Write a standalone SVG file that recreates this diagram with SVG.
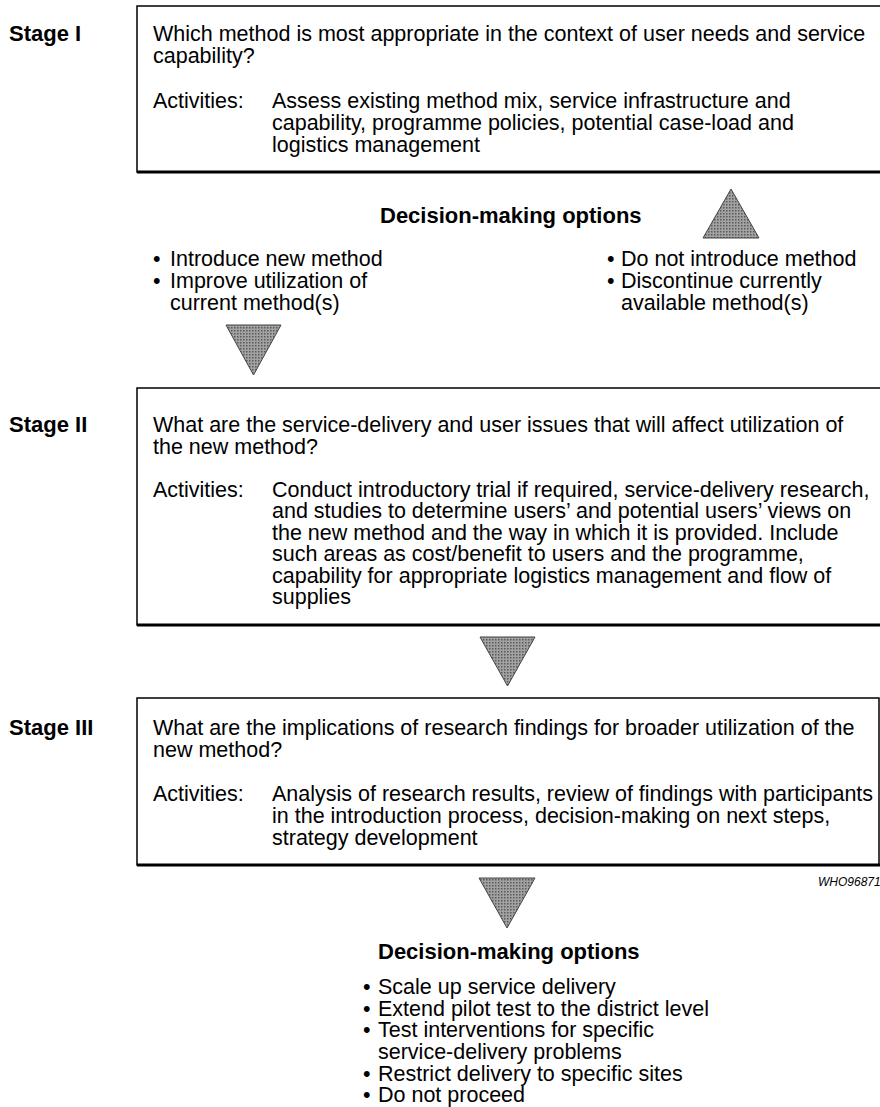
<svg xmlns="http://www.w3.org/2000/svg" width="880" height="1107" viewBox="0 0 880 1107">
<defs>
<pattern id="dots" width="3" height="3" patternUnits="userSpaceOnUse">
  <rect width="3" height="3" fill="#a2a2a2"/>
  <rect width="1.5" height="1.5" fill="#5a5a5a"/>
</pattern>
</defs>
<style>
text { font-family: "Liberation Sans", Arial, Helvetica, sans-serif; fill: #000; }
.t { font-size: 21.5px; }
.b { font-size: 22px; font-weight: bold; }
.w { font-size: 12px; font-style: italic; }
.box { fill: #fff; stroke: #000; stroke-width: 1.5; }
.bot { stroke: #000; stroke-width: 3; }
.tri { fill: url(#dots); stroke: #444; stroke-width: 1; }
</style>
<rect width="880" height="1107" fill="#fff"/>

<g id="stage1">
  <text class="b" x="9" y="41">Stage I</text>
  <rect class="box" x="137" y="6" width="750" height="166"/>
  <line class="bot" x1="137" y1="172" x2="887" y2="172"/>
  <text class="t" x="153" y="41">Which method is most appropriate in the context of user needs and service</text>
  <text class="t" x="153" y="63">capability?</text>
  <text class="t" x="153" y="108">Activities:</text>
  <text class="t" x="272" y="108">Assess existing method mix, service infrastructure and</text>
  <text class="t" x="272" y="130">capability, programme policies, potential case-load and</text>
  <text class="t" x="272" y="152">logistics management</text>
</g>

<g id="options1">
  <text class="b" x="380" y="223">Decision-making options</text>
  <text class="t" x="153" y="266">•<tspan x="170">Introduce new method</tspan></text>
  <text class="t" x="153" y="288">•<tspan x="170">Improve utilization of</tspan></text>
  <text class="t" x="170" y="310">current method(s)</text>
  <text class="t" x="607" y="266">•<tspan x="621">Do not introduce method</tspan></text>
  <text class="t" x="607" y="288">•<tspan x="621">Discontinue currently</tspan></text>
  <text class="t" x="621" y="310">available method(s)</text>
</g>

<g id="stage2">
  <text class="b" x="9" y="432">Stage II</text>
  <rect class="box" x="137" y="388" width="750" height="237"/>
  <line class="bot" x1="137" y1="625" x2="887" y2="625"/>
  <text class="t" x="153" y="432">What are the service-delivery and user issues that will affect utilization of</text>
  <text class="t" x="153" y="454">the new method?</text>
  <text class="t" x="153" y="497">Activities:</text>
  <text class="t" x="272" y="497">Conduct introductory trial if required, service-delivery research,</text>
  <text class="t" x="272" y="518">and studies to determine users’ and potential users’ views on</text>
  <text class="t" x="272" y="540">the new method and the way in which it is provided. Include</text>
  <text class="t" x="272" y="561">such areas as cost/benefit to users and the programme,</text>
  <text class="t" x="272" y="583">capability for appropriate logistics management and flow of</text>
  <text class="t" x="272" y="604">supplies</text>
</g>

<g id="stage3">
  <text class="b" x="9" y="735">Stage III</text>
  <rect class="box" x="137" y="698" width="742" height="167"/>
  <line class="bot" x1="137" y1="865" x2="880" y2="865"/>
  <text class="t" x="153" y="735">What are the implications of research findings for broader utilization of the</text>
  <text class="t" x="153" y="757">new method?</text>
  <text class="t" x="153" y="801">Activities:</text>
  <text class="t" x="272" y="801">Analysis of research results, review of findings with participants</text>
  <text class="t" x="272" y="823">in the introduction process, decision-making on next steps,</text>
  <text class="t" x="272" y="845">strategy development</text>
  <text class="w" x="818" y="886">WHO96871</text>
</g>

<g id="options2">
  <text class="b" x="378" y="959">Decision-making options</text>
  <text class="t" x="363" y="994">•<tspan x="378">Scale up service delivery</tspan></text>
  <text class="t" x="363" y="1016">•<tspan x="378">Extend pilot test to the district level</tspan></text>
  <text class="t" x="363" y="1037">•<tspan x="378">Test interventions for specific</tspan></text>
  <text class="t" x="378" y="1059">service-delivery problems</text>
  <text class="t" x="363" y="1081">•<tspan x="378">Restrict delivery to specific sites</tspan></text>
  <text class="t" x="363" y="1102">•<tspan x="378">Do not proceed</tspan></text>
</g>

<g id="connectors">
  <polygon class="tri" points="731,189 759,238 703,238"/>
  <polygon class="tri" points="226,325 281,325 253.5,375"/>
  <polygon class="tri" points="480,637 535,637 507.5,686"/>
  <polygon class="tri" points="479,878 535,878 507,928"/>
</g>
</svg>
